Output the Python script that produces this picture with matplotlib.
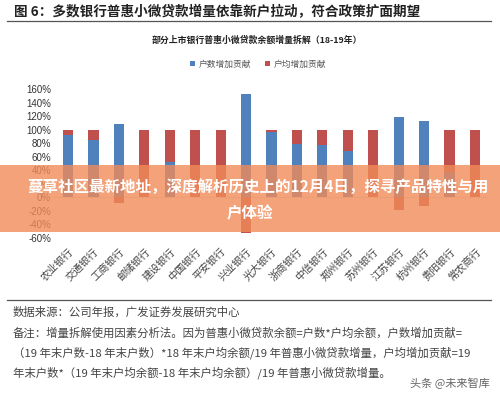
import matplotlib
matplotlib.use("Agg")
import matplotlib.pyplot as plt
from matplotlib.patches import Rectangle
from matplotlib.lines import Line2D
import numpy as np

plt.rcParams['font.family'] = ['Noto Sans CJK SC', 'DejaVu Sans']

banks = ["农业银行", "交通银行", "工商银行", "邮储银行", "建设银行", "中国银行", "平安银行",
         "兴业银行", "光大银行", "浙商银行", "中信银行", "郑州银行", "苏州银行", "江苏银行",
         "杭州银行", "贵阳银行", "常农商行"]
hushu = [92, 84, 108, 0, 52, 0, 0, 152, 97, 79, 77, 68, 0, 118, 113, 38, 0]
hujun = [8, 16, -8, 100, 48, 100, 100, -52, 3, 21, 23, 32, 100, -18, -13, 62, 100]
yticks = [-60, -40, -20, 0, 20, 40, 60, 80, 100, 120, 140, 160]

blue = "#4F81BD"
red = "#C0504D"

W, H = 500, 398
fig = plt.figure(figsize=(5.0, 3.98), dpi=100)
fig.patch.set_facecolor("white")

def fx(px):
    return px / W

def fy(py):
    return 1 - py / H

# top title and rule
fig.text(fx(14), fy(12), "图 6：多数银行普惠小微贷款增量依靠新户拉动，符合政策扩面期望",
         fontsize=9.8, fontweight="bold", color="#222222", va="center", ha="left")
fig.add_artist(Line2D([fx(7), fx(491)], [fy(21), fy(21)], color="#555555", lw=0.9))

# chart title
fig.text(fx(257), fy(40), "部分上市银行普惠小微贷款余额增量拆解（18-19年）",
         fontsize=6.4, fontweight="bold", color="#222222", va="center", ha="center")

ax = fig.add_axes([fx(55.3), fy(238), fx(487.7 - 55.3), (238 - 89) / H])
x = np.arange(len(banks))
b = np.array(hushu, dtype=float)
r = np.array(hujun, dtype=float)
bottom_r = np.where(r >= 0, np.maximum(b, 0), np.minimum(b, 0))
ax.bar(x, b, width=0.4, color=blue, label="户数增加贡献", zorder=2)
ax.bar(x, r, width=0.4, bottom=bottom_r, color=red, label="户均增加贡献", zorder=2)
ax.axhline(0, color="#d9d9d9", lw=0.6, zorder=1)
ax.set_xlim(-0.5, len(banks) - 0.5)
ax.set_ylim(-60, 160)
ax.set_yticks(yticks)
ax.set_yticklabels([f"{v}%" for v in yticks], fontsize=7, color="#333333",
                   family=["Liberation Sans", "DejaVu Sans"])
ax.set_xticks(x)
ax.set_xticklabels(banks, rotation=45, ha="right", rotation_mode="anchor",
                   fontsize=7.4, color="#444444")
ax.tick_params(axis="both", length=0, pad=3)
ax.tick_params(axis="x", pad=6)
for s in ax.spines.values():
    s.set_visible(False)

leg = fig.legend(loc="center", bbox_to_anchor=(fx(258), fy(64)), ncol=2, frameon=False,
                 fontsize=6.3, handlelength=0.6, handleheight=0.6, columnspacing=1.5,
                 handletextpad=0.4, labelcolor="#555555")

# bottom rule and notes
fig.add_artist(Line2D([fx(7), fx(491)], [fy(300), fy(300)], color="#555555", lw=0.9))
notes = [
    "数据来源：公司年报，广发证券发展研究中心",
    "备注：增量拆解使用因素分析法。因为普惠小微贷款余额=户数*户均余额，户数增加贡献=",
    "（19 年末户数-18 年末户数）*18 年末户均余额/19 年普惠小微贷款增量，户均增加贡献=19",
    "年末户数*（19 年末户均余额-18 年末户均余额）/19 年普惠小微贷款增量。",
]
ys = [312, 333, 353, 373]
for t, yy in zip(notes, ys):
    fig.text(fx(13), fy(yy), t, fontsize=8.2, color="#444444", va="center", ha="left")

fig.text(fx(490), fy(383), "头条 @未来智库", fontsize=8, color="#666666",
         va="center", ha="right", zorder=12,
         bbox=dict(facecolor="white", edgecolor="none", pad=1))

# overlay banner
fig.add_artist(Rectangle((0, fy(232)), 1, (232 - 165) / H, transform=fig.transFigure,
                         facecolor="#F18B59", alpha=0.8, edgecolor="none", zorder=10))
fig.text(fx(258), fy(187), "蔓草社区最新地址，深度解析历史上的12月4日，探寻产品特性与用",
         fontsize=11.2, fontweight="bold", color="white", ha="center", va="center", zorder=11)
fig.text(fx(250), fy(213), "户体验",
         fontsize=11.2, fontweight="bold", color="white", ha="center", va="center", zorder=11)

fig.savefig("out.png", dpi=100)
